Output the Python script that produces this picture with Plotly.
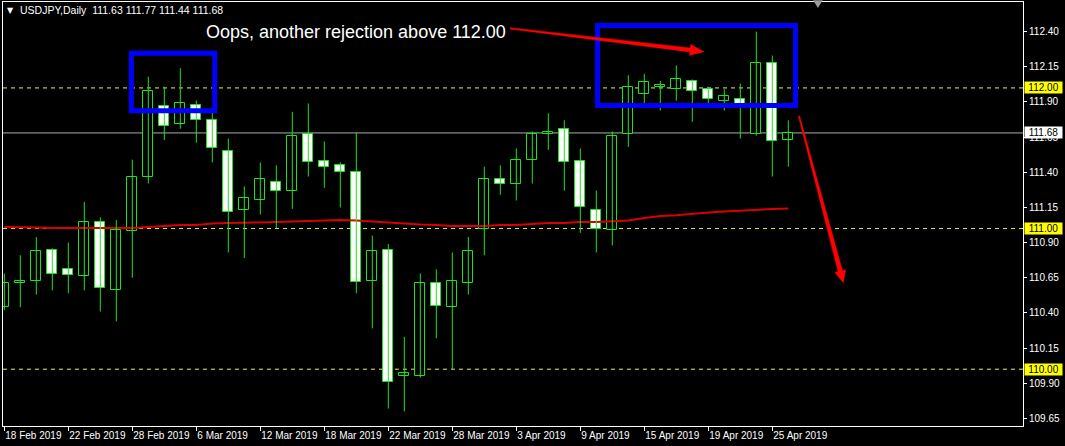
import math
import pandas as pd
import plotly.graph_objects as go

# ---------------- data ----------------
dates = pd.bdate_range("2019-02-18", periods=50)
opens = [110.44, 110.61, 110.63, 110.85, 110.71, 110.66, 111.05, 110.56, 110.98, 111.37,
         111.87, 111.74, 111.88, 111.77, 111.55, 111.13, 111.20, 111.33, 111.27, 111.67,
         111.48, 111.45, 111.40, 110.63, 110.85, 109.95, 109.95, 110.61, 110.44, 110.61,
         111.00, 111.35, 111.32, 111.49, 111.67, 111.71, 111.48, 111.13, 110.99, 111.67,
         111.96, 112.01, 111.99, 112.05, 111.99, 111.91, 111.92, 111.67, 112.18, 111.63]
highs = [110.68, 110.81, 110.94, 110.86, 110.90, 111.19, 111.08, 111.06, 111.49, 112.08,
         112.01, 112.14, 111.91, 111.86, 111.64, 111.30, 111.47, 111.45, 111.83, 111.89,
         111.62, 111.47, 111.68, 110.95, 110.89, 110.23, 110.68, 110.71, 110.83, 110.94,
         111.44, 111.45, 111.57, 111.69, 111.82, 111.77, 111.57, 111.27, 111.69, 112.09,
         112.10, 112.05, 112.16, 112.06, 112.01, 111.99, 112.03, 112.40, 112.23, 111.77]
lows = [110.42, 110.44, 110.53, 110.56, 110.54, 110.56, 110.41, 110.34, 110.65, 111.32,
        111.63, 111.71, 111.61, 111.47, 110.83, 110.79, 111.10, 111.00, 111.14, 111.37,
        111.29, 111.15, 110.54, 110.29, 109.72, 109.70, 109.94, 110.22, 110.00, 110.53,
        110.81, 111.24, 111.20, 111.32, 111.56, 111.27, 110.97, 110.83, 110.88, 111.58,
        111.89, 111.84, 111.91, 111.76, 111.89, 111.84, 111.64, 111.66, 111.37, 111.44]
closes = [110.61, 110.63, 110.84, 110.68, 110.67, 111.05, 110.58, 110.99, 111.37, 111.98,
          111.73, 111.89, 111.77, 111.57, 111.12, 111.22, 111.35, 111.27, 111.66, 111.47,
          111.44, 111.40, 110.62, 110.84, 109.91, 109.97, 110.61, 110.45, 110.63, 110.84,
          111.35, 111.32, 111.49, 111.67, 111.69, 111.47, 111.15, 111.00, 111.66, 112.01,
          112.04, 112.02, 112.06, 111.98, 111.92, 111.94, 111.86, 112.18, 111.62, 111.68]
ma_values = [111.011, 111.011, 111.007, 111.004, 111.004, 111.004, 111.004, 111.004, 111.004, 111.011,
             111.018, 111.025, 111.025, 111.036, 111.039, 111.039, 111.043, 111.047, 111.050, 111.054,
             111.057, 111.061, 111.057, 111.050, 111.043, 111.032, 111.029, 111.025, 111.018, 111.018,
             111.018, 111.025, 111.025, 111.032, 111.039, 111.039, 111.047, 111.047, 111.050, 111.057,
             111.075, 111.089, 111.095, 111.107, 111.114, 111.121, 111.128, 111.135, 111.139, 111.143]
level_lines = [112.00, 111.00, 110.00]
y_ticks = [112.40, 112.15, 111.90, 111.65, 111.40, 111.15, 110.90, 110.65, 110.40, 110.15, 109.90, 109.65]
x_tick_step = 4
title_text = "USDJPY,Daily  111.63 111.77 111.44 111.68"
note_text = "Oops, another rejection above 112.00"

# ---------------- style ----------------
GREEN = "#19e619"
FONT = "Liberation Sans"
W, H = 1065, 446
ML, MR, MT, MB = 3, 42, 2, 20
x_range = [-0.081, 63.669]
y_range = [109.596, 112.611]

xs = list(range(len(dates)))
x_tickvals = xs[::x_tick_step]
x_ticktext = [f"{d.day} {d:%b %Y}" for d in dates[::x_tick_step]]

fig = go.Figure()

# moving average (below candles)
fig.add_trace(go.Scatter(x=xs, y=ma_values, mode="lines",
                         line=dict(color="#d80000", width=2), hoverinfo="skip"))

# wicks
wx, wy = [], []
for i, (h, l) in enumerate(zip(highs, lows)):
    wx += [i, i, None]
    wy += [l, h, None]
fig.add_trace(go.Scatter(x=wx, y=wy, mode="lines", line=dict(color=GREEN, width=1),
                         hoverinfo="skip"))

# bodies
bases = [min(o, c) for o, c in zip(opens, closes)]
heights = [max(abs(c - o), 0.004) for o, c in zip(opens, closes)]
fills = ["#000000" if c >= o else "#ffffff" for o, c in zip(opens, closes)]
fig.add_trace(go.Bar(x=xs, y=heights, base=bases, width=0.62,
                     marker=dict(color=fills, line=dict(color=GREEN, width=1)),
                     hoverinfo="skip"))

shapes = []
# level lines
for lv in level_lines:
    shapes.append(dict(type="line", xref="paper", x0=0, x1=1, yref="y", y0=lv, y1=lv,
                       line=dict(color="#e8e870", width=1, dash="4px,4px"), layer="below"))
# current price line
shapes.append(dict(type="line", xref="paper", x0=0, x1=1, yref="y", y0=closes[-1], y1=closes[-1],
                   line=dict(color="#a8acb0", width=1), layer="below"))

# blue boxes
shapes.append(dict(type="rect", xref="x", yref="y", x0=7.94, x1=13.15, y0=111.838, y1=112.246,
                   line=dict(color="#0000ff", width=5), layer="above"))
shapes.append(dict(type="rect", xref="x", yref="y", x0=37.08, x1=49.45, y0=111.875, y1=112.444,
                   line=dict(color="#0000ff", width=5), layer="above"))

# tapered arrows
PX_X = (W - ML - MR) / (x_range[1] - x_range[0])
PX_Y = (H - MT - MB) / (y_range[1] - y_range[0])


def arrow_path(x0, y0, x1, y1, w0, w1, hw, hl):
    X0, Y0 = x0 * PX_X, -y0 * PX_Y
    X1, Y1 = x1 * PX_X, -y1 * PX_Y
    dx, dy = X1 - X0, Y1 - Y0
    L = math.hypot(dx, dy)
    ux, uy = dx / L, dy / L
    nx, ny = -uy, ux
    bx, by = X1 - ux * hl, Y1 - uy * hl
    pts = [(X0 + nx * w0 / 2, Y0 + ny * w0 / 2),
           (bx + nx * w1 / 2, by + ny * w1 / 2),
           (bx + nx * hw / 2, by + ny * hw / 2),
           (X1, Y1),
           (bx - nx * hw / 2, by - ny * hw / 2),
           (bx - nx * w1 / 2, by - ny * w1 / 2),
           (X0 - nx * w0 / 2, Y0 - ny * w0 / 2)]
    d = "M " + " L ".join(f"{px / PX_X:.4f},{-py / PX_Y:.5f}" for px, py in pts) + " Z"
    return d


for (a, b, c, e, w1, hw, hl) in [(31.61, 112.424, 43.73, 112.258, 4, 11, 14),
                                  (49.67, 111.80, 52.44, 110.615, 4.5, 11, 12)]:
    shapes.append(dict(type="path", xref="x", yref="y", path=arrow_path(a, b, c, e, 1.2, w1, hw, hl),
                       fillcolor="#ff0000", line=dict(color="#ff0000", width=0.5), layer="above"))

# shift marker at top
shapes.append(dict(type="path", xref="x", yref="paper",
                   path="M 50.55,1.004 L 51.15,1.004 L 50.85,0.986 Z",
                   fillcolor="#9a9a9a", line=dict(width=0), layer="above"))

annotations = []
annotations.append(dict(x=12.47, y=112.40, xref="x", yref="y", text=note_text, showarrow=False,
                        xanchor="left", yanchor="middle",
                        font=dict(family=FONT, size=18, color="#ffffff")))
annotations.append(dict(x=0, y=1, xref="paper", yref="paper", text="▼", showarrow=False,
                        xanchor="left", yanchor="middle", xshift=2, yshift=-8,
                        font=dict(family="DejaVu Sans", size=8, color="#ffffff")))
annotations.append(dict(x=0, y=1, xref="paper", yref="paper", text=title_text.replace("  ", "&nbsp;&nbsp;"),
                        showarrow=False, xanchor="left", yanchor="middle", xshift=15, yshift=-8,
                        font=dict(family=FONT, size=10.5, color="#ffffff")))
for lv in level_lines:
    annotations.append(dict(x=1, y=lv, xref="paper", yref="y", text=f"{lv:.2f}", showarrow=False,
                            xanchor="left", yanchor="middle", xshift=1, width=37, height=11,
                            bgcolor="#ffff00", borderpad=0,
                            font=dict(family=FONT, size=10, color="#000000")))
annotations.append(dict(x=1, y=closes[-1], xref="paper", yref="y", text=f"{closes[-1]:.2f}",
                        showarrow=False, xanchor="left", yanchor="middle", xshift=1, width=37, height=11,
                        bgcolor="#ffffff", borderpad=0,
                        font=dict(family=FONT, size=10, color="#000000")))

fig.update_layout(
    width=W, height=H,
    margin=dict(l=ML, r=MR, t=MT, b=MB, autoexpand=False),
    paper_bgcolor="#000000", plot_bgcolor="#000000",
    showlegend=False, hovermode=False, bargap=0,
    shapes=shapes, annotations=annotations,
    xaxis=dict(range=x_range, tickvals=x_tickvals, ticktext=x_ticktext, tickangle=0,
               ticks="outside", ticklen=4, tickcolor="#ffffff", tickwidth=1,
               ticklabelposition="outside right", automargin=False,
               tickfont=dict(family=FONT, size=10, color="#ffffff"),
               showline=True, linecolor="#ffffff", linewidth=1, mirror=True,
               showgrid=False, zeroline=False, fixedrange=True),
    yaxis=dict(range=y_range, side="right", tickvals=y_ticks, ticktext=[f"{v:.2f}" for v in y_ticks],
               ticks="outside", ticklen=3, tickcolor="#ffffff", tickwidth=1, automargin=False,
               tickfont=dict(family=FONT, size=10, color="#ffffff"),
               showline=True, linecolor="#ffffff", linewidth=1, mirror=True,
               showgrid=False, zeroline=False, fixedrange=True),
)

fig.write_html("out.html", config={"displayModeBar": False},
               post_script="document.body.style.margin='0';document.body.style.background='#000';")
